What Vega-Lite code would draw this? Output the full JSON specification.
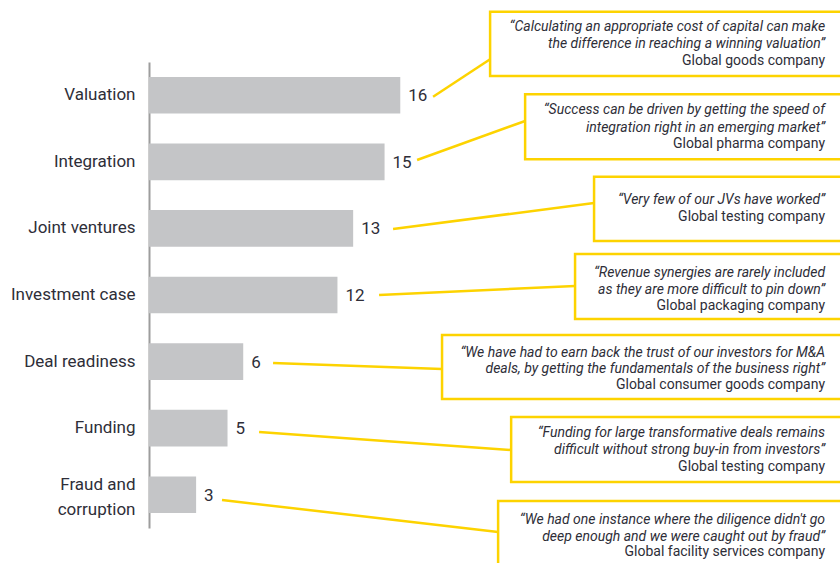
{
  "$schema": "https://vega.github.io/schema/vega-lite/v6.json",
  "width": 691,
  "height": 466,
  "autosize": {"type": "none"},
  "padding": {"left": 149, "top": 62, "right": 0, "bottom": 35},
  "background": "white",
  "config": {"view": {"stroke": null}, "font": "Roboto"},
  "datasets": {
    "bars": [
      {"category": "Valuation", "value": 16},
      {"category": "Integration", "value": 15},
      {"category": "Joint ventures", "value": 13},
      {"category": "Investment case", "value": 12},
      {"category": "Deal readiness", "value": 6},
      {"category": "Funding", "value": 5},
      {"category": "Fraud and corruption", "value": 3}
    ],
    "quotes": [
      {"id": 1, "bx": 21.72, "bx2": 45, "by": -0.756, "by2": 0.210, "lx": 18.09, "ly": 0.521, "lx2": 21.72, "ly2": -0.041},
      {"id": 2, "bx": 23.95, "bx2": 45, "by": 0.485, "by2": 1.462, "lx": 17.07, "ly": 1.472, "lx2": 23.95, "ly2": 0.886},
      {"id": 3, "bx": 28.34, "bx2": 45, "by": 1.723, "by2": 2.689, "lx": 15.54, "ly": 2.509, "lx2": 28.34, "ly2": 2.118},
      {"id": 4, "bx": 27.13, "bx2": 45, "by": 2.884, "by2": 3.861, "lx": 14.65, "ly": 3.500, "lx2": 27.13, "ly2": 3.365},
      {"id": 5, "bx": 18.66, "bx2": 45, "by": 4.101, "by2": 5.062, "lx": 7.90, "ly": 4.521, "lx2": 18.66, "ly2": 4.611},
      {"id": 6, "bx": 23.06, "bx2": 45, "by": 5.333, "by2": 6.309, "lx": 7.01, "ly": 5.558, "lx2": 23.06, "ly2": 5.829},
      {"id": 7, "bx": 22.23, "bx2": 45, "by": 6.594, "by2": 7.571, "lx": 4.65, "ly": 6.579, "lx2": 22.23, "ly2": 7.060}
    ],
    "lines": [
      {"kind": "quote", "tx": 43.05, "ty": -0.526, "text": "“Calculating an appropriate cost of capital can make"},
      {"kind": "quote", "tx": 43.05, "ty": -0.270, "text": "the difference in reaching a winning valuation”"},
      {"kind": "company", "tx": 43.05, "ty": -0.015, "text": "Global  goods company"},
      {"kind": "quote", "tx": 43.05, "ty": 0.721, "text": "“Success can be driven by getting the speed of"},
      {"kind": "quote", "tx": 43.05, "ty": 0.986, "text": "integration right in an emerging market”"},
      {"kind": "company", "tx": 43.05, "ty": 1.232, "text": "Global pharma company"},
      {"kind": "quote", "tx": 43.05, "ty": 2.073, "text": "“Very few of our JVs have worked”"},
      {"kind": "company", "tx": 43.05, "ty": 2.328, "text": "Global testing company"},
      {"kind": "quote", "tx": 43.05, "ty": 3.170, "text": "“Revenue synergies are rarely included"},
      {"kind": "quote", "tx": 43.05, "ty": 3.425, "text": "as they are more difficult to pin down”"},
      {"kind": "company", "tx": 43.05, "ty": 3.665, "text": "Global packaging company"},
      {"kind": "quote", "tx": 43.05, "ty": 4.367, "text": "“We have had to earn back the trust of our investors for M&A"},
      {"kind": "quote", "tx": 43.05, "ty": 4.616, "text": "deals, by getting the fundamentals of the business right”"},
      {"kind": "company", "tx": 43.05, "ty": 4.852, "text": "Global consumer goods company"},
      {"kind": "quote", "tx": 43.05, "ty": 5.578, "text": "“Funding for large transformative deals remains"},
      {"kind": "quote", "tx": 43.05, "ty": 5.828, "text": "difficult without strong buy-in from investors”"},
      {"kind": "company", "tx": 43.05, "ty": 6.079, "text": "Global testing company"},
      {"kind": "quote", "tx": 43.05, "ty": 6.880, "text": "“We had one instance where the diligence didn't go"},
      {"kind": "quote", "tx": 43.05, "ty": 7.131, "text": "deep enough and we were caught out by fraud”"},
      {"kind": "company", "tx": 43.05, "ty": 7.365, "text": "Global facility services company"}
    ]
  },
  "layer": [
    {
      "data": {"name": "bars"},
      "encoding": {
        "y": {
          "field": "category",
          "type": "nominal",
          "sort": null,
          "scale": {"paddingInner": 0.45, "paddingOuter": 0.225},
          "axis": {
            "title": null,
            "ticks": false,
            "labelPadding": 14,
            "labelFontSize": 17,
            "labelFont": "Roboto",
            "labelColor": "#2e2e38",
            "labelLimit": 0,
            "labelLineHeight": 25,
            "labelExpr": "datum.value == 'Fraud and corruption' ? ['Fraud and', 'corruption'] : datum.value",
            "labelOffset": {"condition": {"test": "datum.value == 'Fraud and corruption'", "value": -10}, "value": 0},
            "domainColor": "#9d9d9d",
            "domainWidth": 2,
            "grid": false
          }
        },
        "x": {
          "field": "value",
          "type": "quantitative",
          "scale": {"domain": [0, 44], "nice": false, "zero": true},
          "axis": null
        }
      },
      "layer": [
        {"mark": {"type": "bar", "color": "#c4c5c7"}},
        {
          "mark": {"type": "text", "align": "left", "baseline": "middle", "dx": 8, "dy": 1, "fontSize": 17, "font": "Roboto", "color": "#2e2e38"},
          "encoding": {"text": {"field": "value", "type": "quantitative"}}
        }
      ]
    },
    {
      "layer": [
        {
          "data": {"name": "quotes"},
          "mark": {"type": "rect", "fill": null, "fillOpacity": 0, "stroke": "#fdd300", "strokeWidth": 2.5},
          "encoding": {
            "x": {"field": "bx", "type": "quantitative", "scale": {"domain": [0, 44], "nice": false, "zero": true}, "axis": null},
            "x2": {"field": "bx2"},
            "y": {"field": "by", "type": "quantitative", "scale": {"domain": [0, 7], "nice": false, "zero": false, "reverse": true}, "axis": null},
            "y2": {"field": "by2"}
          }
        },
        {
          "data": {"name": "quotes"},
          "mark": {"type": "rule", "color": "#fdd300", "strokeWidth": 2.5},
          "encoding": {
            "x": {"field": "lx", "type": "quantitative", "scale": {"domain": [0, 44], "nice": false, "zero": true}, "axis": null},
            "x2": {"field": "lx2"},
            "y": {"field": "ly", "type": "quantitative", "scale": {"domain": [0, 7], "nice": false, "zero": false, "reverse": true}, "axis": null},
            "y2": {"field": "ly2"}
          }
        },
        {
          "data": {"name": "lines"},
          "transform": [{"filter": "datum.kind == 'quote'"}],
          "mark": {"type": "text", "align": "right", "baseline": "middle", "fontSize": 14, "font": "Roboto", "fontStyle": "italic", "color": "#2e2e38"},
          "encoding": {
            "x": {"field": "tx", "type": "quantitative", "scale": {"domain": [0, 44], "nice": false, "zero": true}, "axis": null},
            "y": {"field": "ty", "type": "quantitative", "scale": {"domain": [0, 7], "nice": false, "zero": false, "reverse": true}, "axis": null},
            "text": {"field": "text", "type": "nominal"}
          }
        },
        {
          "data": {"name": "lines"},
          "transform": [{"filter": "datum.kind == 'company'"}],
          "mark": {"type": "text", "align": "right", "baseline": "middle", "fontSize": 14, "font": "Roboto", "color": "#2e2e38"},
          "encoding": {
            "x": {"field": "tx", "type": "quantitative", "scale": {"domain": [0, 44], "nice": false, "zero": true}, "axis": null},
            "y": {"field": "ty", "type": "quantitative", "scale": {"domain": [0, 7], "nice": false, "zero": false, "reverse": true}, "axis": null},
            "text": {"field": "text", "type": "nominal"}
          }
        }
      ]
    }
  ],
  "resolve": {"scale": {"y": "independent"}}
}
